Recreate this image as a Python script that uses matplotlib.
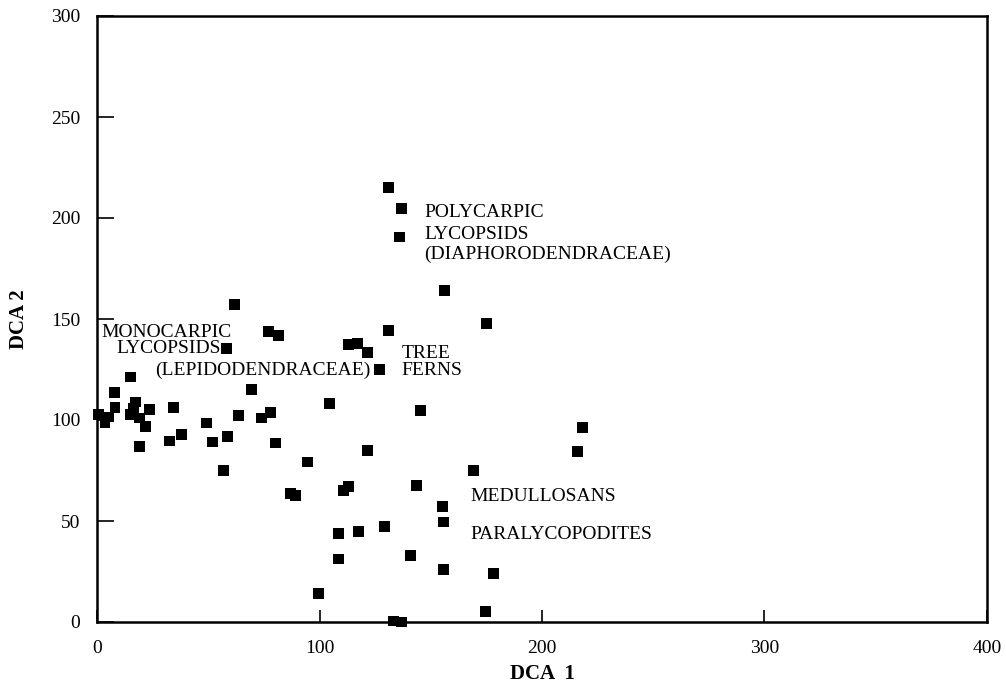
import matplotlib
matplotlib.use("Agg")
import matplotlib.pyplot as plt

dca1 = [0.5, 3.6, 5.4, 8.1, 7.7, 14.9, 14.9, 16.2, 17.1, 18.9, 21.6, 23.4, 18.9,
        34.2, 32.4, 37.8, 49.1, 51.8, 58.6, 56.8, 63.5, 58.1, 61.7, 69.4, 73.9,
        77.9, 80.2, 77.0, 81.5,
        156.3, 131.1, 113.1, 117.1, 121.6, 127.0, 104.5, 145.5, 121.6, 94.6, 169.4,
        131.1, 136.9, 136.0,
        143.7, 86.9, 89.2, 110.8, 113.1, 155.4, 155.9, 108.6, 117.6, 129.3, 108.6,
        141.0, 155.9, 178.4, 99.5, 174.8, 133.3, 136.9,
        175.2, 215.8, 218.0]
dca2 = [102.5, 98.5, 101.5, 106.4, 113.4, 121.3, 102.5, 105.9, 108.9, 101.0, 97.0, 105.4, 87.1,
        106.4, 89.6, 92.6, 98.5, 89.1, 91.6, 75.2, 102.0, 135.6, 157.4, 114.9, 101.0,
        103.5, 88.6, 143.6, 141.6,
        163.9, 144.1, 137.6, 138.1, 133.2, 124.8, 108.4, 104.5, 85.1, 79.2, 74.8,
        215.3, 204.5, 190.6,
        67.8, 63.4, 62.4, 65.3, 67.3, 57.4, 49.5, 43.6, 45.0, 47.5, 31.2,
        32.7, 26.2, 23.8, 13.9, 5.4, 0.5, 0.0,
        148.0, 84.2, 96.5]

x_ticks = [0, 100, 200, 300, 400]
y_ticks = [0, 50, 100, 150, 200, 250, 300]

labels = [
    ("MONOCARPIC", 2, 143.5),
    ("LYCOPSIDS", 8.5, 135.2),
    ("(LEPIDODENDRACEAE)", 26, 124.8),
    ("TREE", 137, 132.7),
    ("FERNS", 137, 124.3),
    ("POLYCARPIC", 147, 202.5),
    ("LYCOPSIDS", 147, 191.6),
    ("(DIAPHORODENDRACEAE)", 147, 182.2),
    ("MEDULLOSANS", 168, 61.9),
    ("PARALYCOPODITES", 168, 43.1),
]

plt.rcParams['font.family'] = ['Liberation Serif', 'DejaVu Serif']

fig = plt.figure(figsize=(10.06, 6.86), dpi=100)
ax = fig.add_axes([97/1006, 1-622/686, (987-97)/1006, (622-16)/686])

ax.scatter(dca1, dca2, marker='s', s=62, c='black', edgecolors='none', zorder=3, clip_on=False)

for txt, x, y in labels:
    ax.text(x, y, txt, fontsize=14, ha='left', va='center', color='black')

ax.set_xlim(0, 400)
ax.set_ylim(0, 300)
ax.set_xticks(x_ticks)
ax.set_yticks(y_ticks)
ax.tick_params(axis='both', direction='in', labelsize=14, width=1.2, colors='black')
ax.tick_params(axis='y', length=12, pad=12)
ax.tick_params(axis='x', length=9, pad=13)
for s in ax.spines.values():
    s.set_linewidth(1.8)
ax.set_xlabel('DCA  1', fontsize=15, fontweight='bold', labelpad=5)
ax.set_ylabel('DCA 2', fontsize=15, fontweight='bold', labelpad=16)

fig.savefig('out.png', dpi=100, facecolor='white')
